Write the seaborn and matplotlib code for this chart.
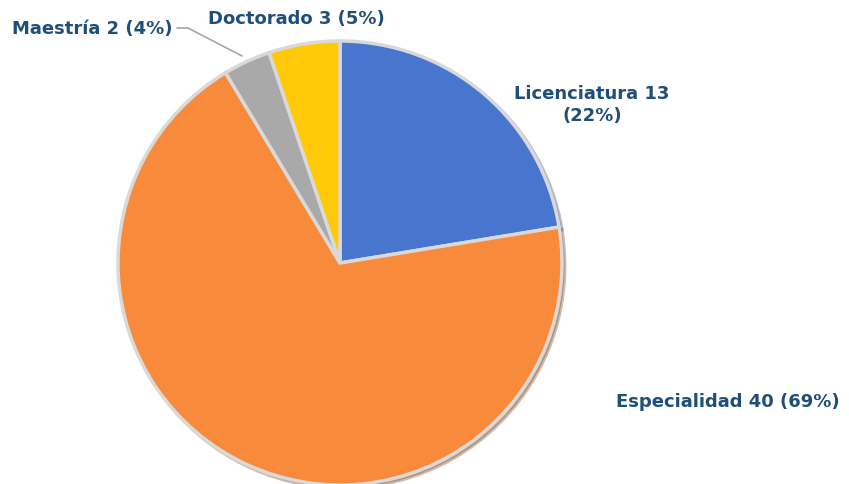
import matplotlib
matplotlib.use('Agg')
import matplotlib.pyplot as plt
import seaborn as sns

# datos del grafico
categorias = ['Licenciatura', 'Especialidad', 'Maestría', 'Doctorado']
valores = [13, 40, 2, 3]
porcentajes = ['22%', '69%', '4%', '5%']
colores = ['#4876CF', '#F78A3B', '#A9A9A9', '#FFC90A']

sns.set_theme(style='white')
plt.rcParams['font.family'] = ['DejaVu Sans']

fig = plt.figure(figsize=(8.49, 4.85), dpi=100)
ax = fig.add_axes([0, 0, 1, 1])

wedges, _ = ax.pie(
    valores,
    colors=colores,
    startangle=90,
    counterclock=False,
    center=(340, 221),
    radius=222,
    explode=[0.02, 0.015, 0.03, 0.03],
    wedgeprops={'edgecolor': '#D9D9D9', 'linewidth': 2.5},
    shadow={'ox': 2, 'oy': -2, 'shade': 0.5, 'alpha': 0.35},
    frame=True,
)
ax.set_xlim(0, 849)
ax.set_ylim(0, 485)
ax.set_aspect('equal')
ax.axis('off')

color_texto = '#1F4E79'
estilo = dict(color=color_texto, fontsize=13, fontweight='bold')

ax.text(296, 466, f'{categorias[3]} {valores[3]} ({porcentajes[3]})', ha='center', va='center', **estilo)
ax.text(92, 456, f'{categorias[2]} {valores[2]} ({porcentajes[2]})', ha='center', va='center', **estilo)
ax.text(592, 380, f'{categorias[0]} {valores[0]}\n({porcentajes[0]})', ha='center', va='center',
        linespacing=1.25, **estilo)
ax.text(728, 83, f'{categorias[1]} {valores[1]} ({porcentajes[1]})', ha='center', va='center', **estilo)

# linea guia de Maestria
ax.plot([177, 188, 242], [456, 456, 428], color='#A6A6A6', lw=1.2)

fig.savefig('out.png', dpi=100)
